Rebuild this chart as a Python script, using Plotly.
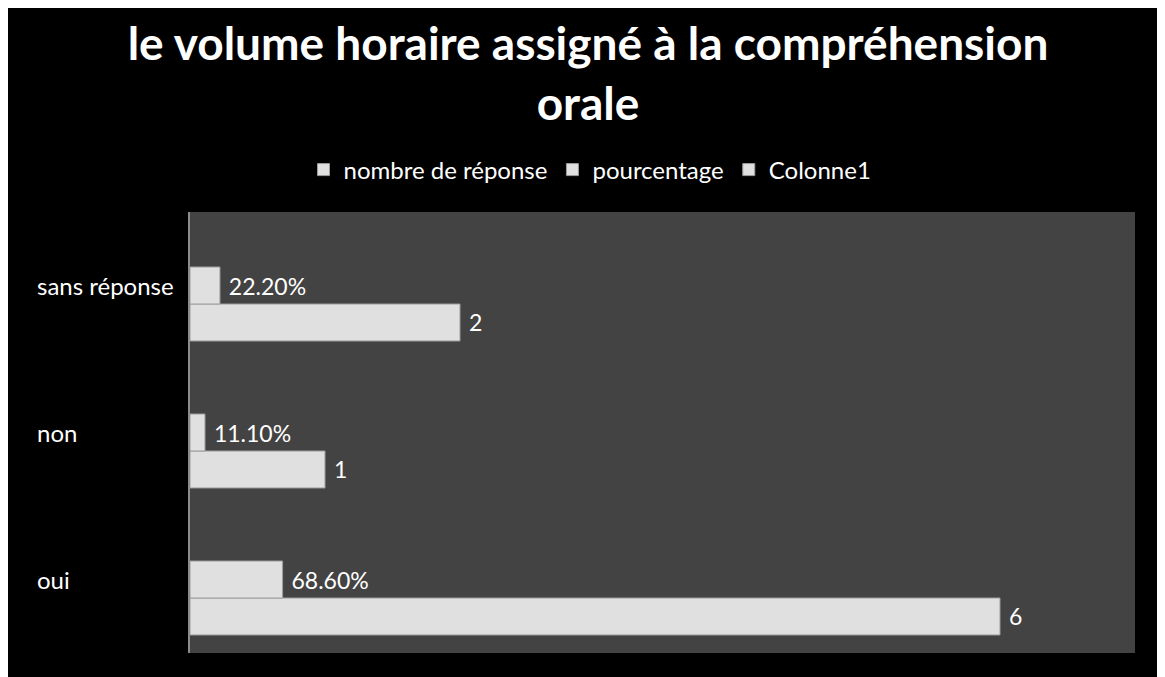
import plotly.graph_objects as go

categories = ["oui", "non", "sans réponse"]
nombre = [6, 1, 2]
pourcentage = [0.686, 0.111, 0.222]
colonne1 = [None, None, None]

W, H = 1150, 669
L, R, T, B = 182, 23, 204, 24
PW, PH = W - L - R, H - T - B

def px_x(p):
    return (p - L) / PW

def px_y(p):
    return (H - B - p) / PH

FONT = "Lato"
bar_color = "#e0e0e0"
line_color = "#9c9c9c"

fig = go.Figure()
fig.add_trace(go.Bar(
    y=categories, x=nombre, orientation="h", name="nombre de réponse",
    marker=dict(color=bar_color, line=dict(color=line_color, width=1)),
    text=[str(v) for v in nombre], texttemplate=" %{text}", textposition="outside",
    textfont=dict(color="white", size=23, family=FONT), cliponaxis=False,
))
fig.add_trace(go.Bar(
    y=categories, x=pourcentage, orientation="h", name="pourcentage",
    marker=dict(color=bar_color, line=dict(color=line_color, width=1)),
    texttemplate=" %{x:.2%}", textposition="outside",
    textfont=dict(color="white", size=23, family=FONT), cliponaxis=False,
))
fig.add_trace(go.Bar(
    y=categories, x=colonne1, orientation="h", name="Colonne1",
    marker=dict(color=bar_color, line=dict(color=line_color, width=1)),
))

for c in categories:
    fig.add_annotation(
        x=px_x(27), xref="paper", y=c, yref="y", text=c, showarrow=False,
        xanchor="left", yanchor="middle",
        font=dict(color="white", size=24, family=FONT),
    )

fig.update_layout(
    width=W, height=H,
    margin=dict(l=L, r=R, t=T, b=B),
    paper_bgcolor="black", plot_bgcolor="#434343",
    barmode="group", bargap=0.245, bargroupgap=0,
    title=dict(
        text="<b>le volume horaire assigné à la compréhension<br>orale</b>",
        x=(580 / W), xanchor="center", xref="container",
        y=1 - 52 / H, yanchor="middle", yref="container",
        font=dict(color="white", size=46, family=FONT),
    ),
    legend=dict(
        orientation="h", x=px_x(582), xanchor="center", y=px_y(162), yanchor="middle",
        font=dict(color="white", size=24, family=FONT), bgcolor="rgba(0,0,0,0)",
        itemwidth=30,
    ),
    xaxis=dict(range=[0, 7], showgrid=False, zeroline=False, showticklabels=False,
               showline=False, ticks=""),
    yaxis=dict(showgrid=False, zeroline=False, showticklabels=False, ticks="",
               showline=True, linecolor="#8c8c8c", linewidth=2,
               categoryorder="array", categoryarray=categories, range=[-0.5, 2.5]),
    showlegend=True,
)

fig.write_html("out.html")
